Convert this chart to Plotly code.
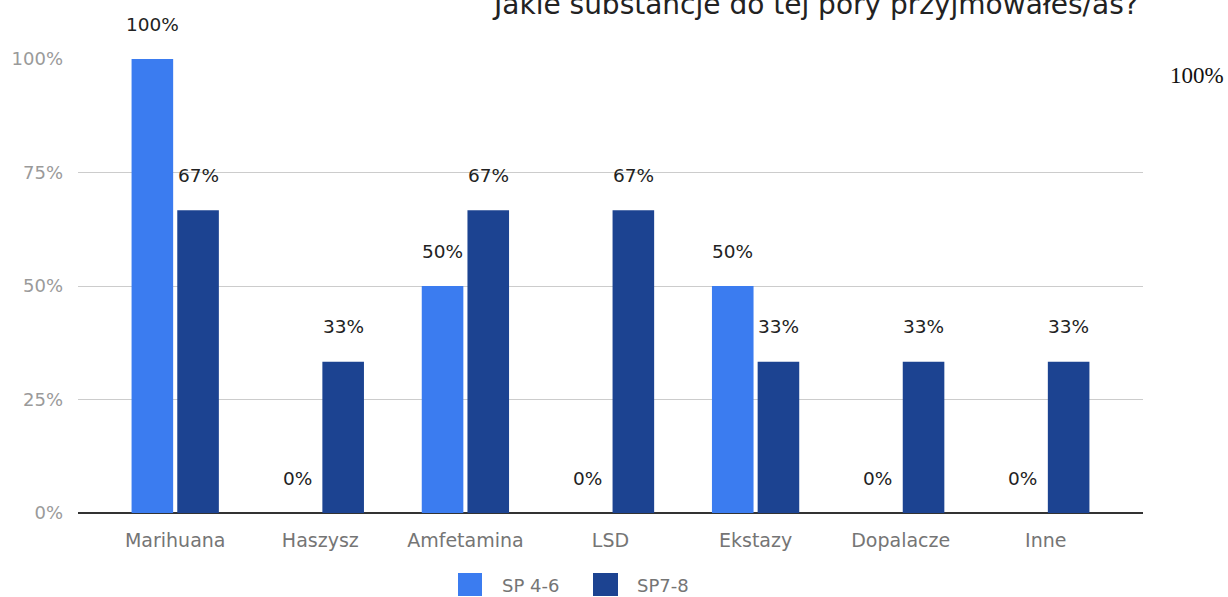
import plotly.graph_objects as go

# Survey answers: share of respondents per substance, by school group
categories = ["Marihuana", "Haszysz", "Amfetamina", "LSD", "Ekstazy", "Dopalacze", "Inne"]
series_names = ["SP 4-6", "SP7-8"]
sp_4_6 = [100, 0, 50, 0, 50, 0, 0]
sp_7_8 = [66.7, 33.3, 66.7, 66.7, 33.3, 33.3, 33.3]
y_ticks = [0, 25, 50, 75, 100]

title_text = "Jakie substancje do tej pory przyjmowałeś/aś?"
colors = ["#3b7cf0", "#1c4391"]

FONT = "DejaVu Sans"
W, H = 1228, 597
L, R, T, B = 78, 85, 59, 84
BARGAP = 0.37
BARGROUPGAP = 0.09

def px_x(px):
    return (px - L) / (W - L - R)

def px_y(py):
    return (H - B - py) / (H - T - B)

x_idx = list(range(len(categories)))
fig = go.Figure()
for name, vals, col in zip(series_names, [sp_4_6, sp_7_8], colors):
    fig.add_trace(go.Bar(x=x_idx, y=vals, name=name, marker=dict(color=col, line=dict(width=0)),
                         showlegend=False, hoverinfo="skip"))

# value labels above each bar
half = (1 - BARGAP) / 4
annotations = []
for k, vals in enumerate([sp_4_6, sp_7_8]):
    off = -half if k == 0 else half
    for i, v in enumerate(vals):
        annotations.append(dict(x=i + off, y=v, xref="x", yref="y", text=f"{v:.0f}%",
                                showarrow=False, yshift=35,
                                font=dict(family=FONT, size=18.5, color="#222222")))

# chart title (runs off the top edge)
annotations.append(dict(x=px_x(1141), y=px_y(5), xref="paper", yref="paper", text=title_text,
                        xanchor="right", yanchor="middle", showarrow=False,
                        font=dict(family=FONT, size=28, color="#222222")))
# stray value at right
annotations.append(dict(x=px_x(1226), y=px_y(76), xref="paper", yref="paper", text="100%",
                        xanchor="right", yanchor="middle", showarrow=False,
                        font=dict(family="Liberation Serif", size=23, color="#111111")))

# legend: swatches + names
shapes = []
legend_items = [(458, 482, 500), (593, 618, 635)]
for (x0, x1, tx), name, col in zip(legend_items, series_names, colors):
    shapes.append(dict(type="rect", xref="paper", yref="paper",
                       x0=px_x(x0), x1=px_x(x1), y0=px_y(596), y1=px_y(573),
                       fillcolor=col, line=dict(width=0)))
    annotations.append(dict(x=px_x(tx), y=px_y(585), xref="paper", yref="paper", text=name,
                            xanchor="left", yanchor="middle", showarrow=False,
                            font=dict(family=FONT, size=18, color="#757575")))

fig.update_layout(
    width=W, height=H,
    margin=dict(l=L, r=R, t=T, b=B, pad=0),
    paper_bgcolor="white", plot_bgcolor="white",
    barmode="group", bargap=BARGAP, bargroupgap=BARGROUPGAP,
    annotations=annotations, shapes=shapes,
    showlegend=False,
    xaxis=dict(range=[-0.67, 6.67], tickvals=x_idx, ticktext=categories,
               showgrid=False, zeroline=False, showline=False, ticks="",
               ticklabelstandoff=14,
               tickfont=dict(family=FONT, size=19, color="#757575")),
    yaxis=dict(range=[0, 100], tickvals=y_ticks, ticktext=[f"{t}%" for t in y_ticks],
               showgrid=True, gridcolor="#cccccc", gridwidth=1,
               zeroline=True, zerolinecolor="#333333", zerolinewidth=2,
               showline=False, ticks="", ticklabelstandoff=14,
               tickfont=dict(family=FONT, size=18, color="#9a9a9a")),
)

fig.write_html("out.html", config={"displayModeBar": False})
